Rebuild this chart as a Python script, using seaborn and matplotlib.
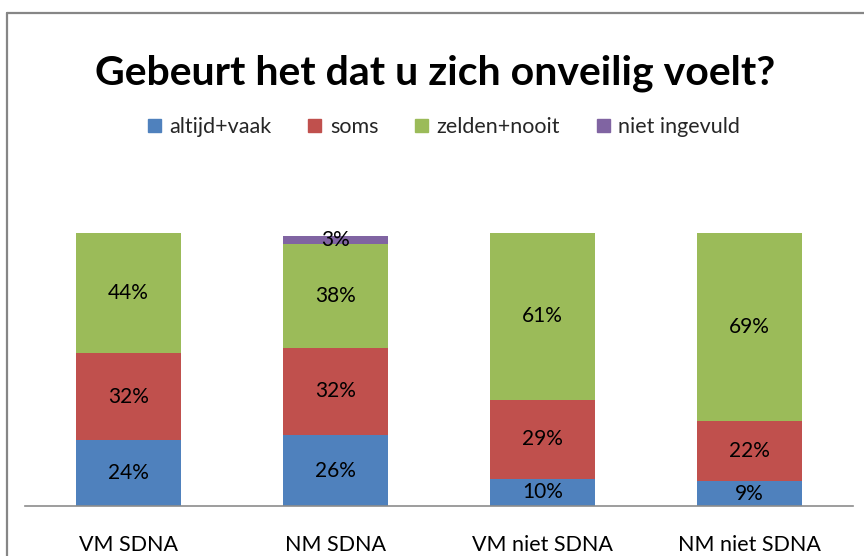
import numpy as np
import pandas as pd
import matplotlib
matplotlib.use('Agg')
import matplotlib.pyplot as plt
import seaborn as sns
from matplotlib.lines import Line2D

groups = ['VM SDNA', 'NM SDNA', 'VM niet SDNA', 'NM niet SDNA']
series = ['altijd+vaak', 'soms', 'zelden+nooit', 'niet ingevuld']
altijd_vaak = [24, 26, 10, 9]
soms = [32, 32, 29, 22]
zelden_nooit = [44, 38, 61, 69]
niet_ingevuld = [0, 3, 0, 0]
colors = ['#4F81BD', '#C0504D', '#9BBB59', '#8064A2']

sns.set_style('white')
plt.rcParams['font.family'] = ['Lato', 'DejaVu Sans']

fig = plt.figure(figsize=(8.64, 5.56), dpi=100)
ax = fig.add_axes([25 / 864, 50 / 556, 828 / 864, 273 / 556])

values = [altijd_vaak, soms, zelden_nooit, niet_ingevuld]
bottom = np.zeros(len(groups))
for name, vals, col in zip(series, values, colors):
    df = pd.DataFrame({'groep': groups, 'pct': vals})
    sns.barplot(data=df, x='groep', y='pct', order=groups, color=col,
                width=0.51, bottom=bottom.copy(), label=name, ax=ax,
                linewidth=0, saturation=1)
    cont = ax.containers[-1]
    ax.bar_label(cont, labels=[f'{v}%' if v > 0 else '' for v in vals],
                 label_type='center', fontsize=15, color='black')
    bottom += np.array(vals)

ax.set_xlim(-0.5, 3.5)
ax.set_ylim(0, 100)
ax.set_xlabel('')
ax.set_ylabel('')
ax.set_yticks([])
ax.tick_params(axis='x', length=0, labelsize=15.5, pad=21, labelcolor='black')
for s in ['top', 'right', 'left']:
    ax.spines[s].set_visible(False)
ax.spines['bottom'].set_color('#8C8C8C')
ax.spines['bottom'].set_linewidth(1.2)

if ax.legend_:
    ax.legend_.remove()
handles = [plt.Rectangle((0, 0), 1, 1, color=c) for c in colors]
fig.legend(handles, series, loc='center', bbox_to_anchor=(0.5 + 12 / 864, 1 - 127 / 556),
           ncol=4, frameon=False, fontsize=15.5, handlelength=0.6, handleheight=0.6,
           handletextpad=0.4, columnspacing=1.7)

fig.text(0.5 + 3 / 864, 1 - 73 / 556, 'Gebeurt het dat u zich onveilig voelt?',
         ha='center', va='center', fontsize=29.5, fontweight='bold', color='black')

# chart frame (left and top edge visible)
fig.add_artist(Line2D([7 / 864, 7 / 864], [0, 1 - 13 / 556], transform=fig.transFigure,
                      color='#868686', linewidth=1.6))
fig.add_artist(Line2D([7 / 864, 1], [1 - 13 / 556, 1 - 13 / 556], transform=fig.transFigure,
                      color='#868686', linewidth=1.6))

fig.savefig('out.png', dpi=100)
